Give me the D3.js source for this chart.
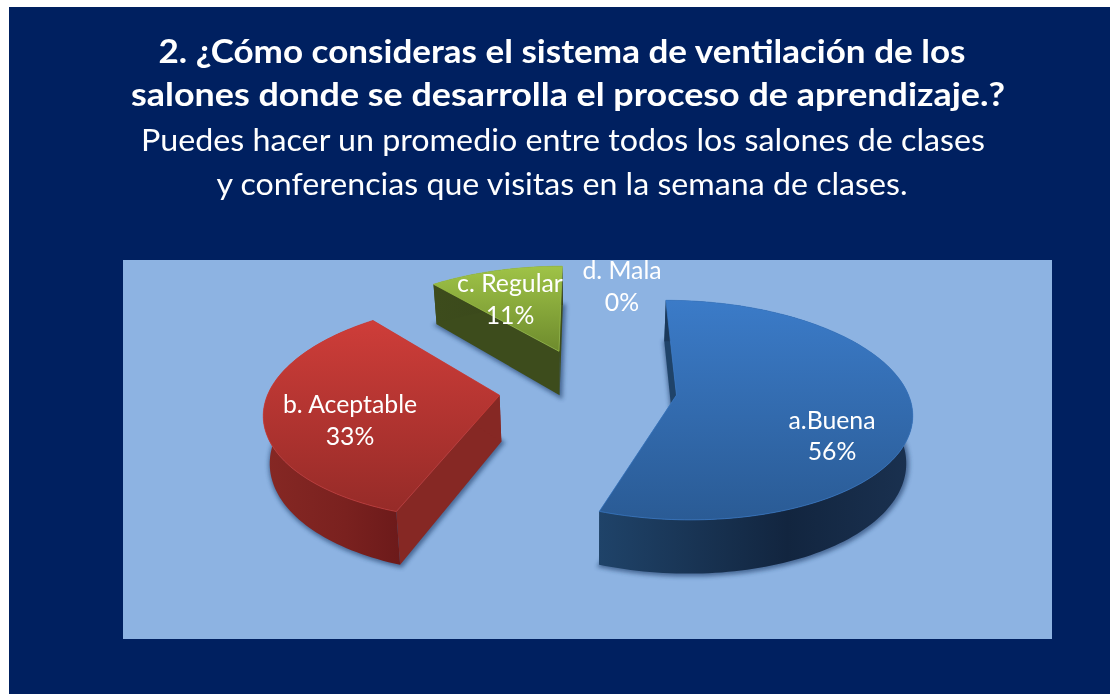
<!DOCTYPE html>
<html><head><meta charset="utf-8">
<script src="https://cdnjs.cloudflare.com/ajax/libs/d3/7.8.5/d3.min.js"></script>
<style>html,body{margin:0;padding:0;background:#fff;overflow:hidden}svg{display:block}</style>
</head><body><div id="chart"></div>
<script>
// ---- data ----
const categories = ["a.Buena", "b. Aceptable", "c. Regular", "d. Mala"];
const shares = [0.555, 0.334, 0.111, 0];
const titleLines = ["2. ¿Cómo consideras el sistema de ventilación de los",
                    "salones donde se desarrolla el proceso de aprendizaje.?"];
const subtitleLines = ["Puedes hacer un promedio entre todos los salones de clases",
                       "y conferencias que visitas en la semana de clases."];
// ---- styles / layout ----
const topColors  = [["#3B7BC8","#2A5B95"],["#CE3D39","#962B28"],["#9FC347","#6E8B2D"],["#888","#888"]];
const wallStops  = [["#1F4369","#12253F","#1A3150"],["#862824","#7A211F","#6C1A1A"],["#3D4C1C","#3A481B","#36421A"],["#555","#555","#555"]];
const labelPos   = [[832,421,452],[350,405,437],[510,284,316],[622,271,303]];
const titleLayout = [[562,63,807],[568,106,874]];
const subLayout   = [[563,151,844],[562,195,691]];
const W=1110,H=694, cx=588, cy=388, R=230, explode=89, D=1700, tilt=0.46, depth=46, zk=0.98;

const svg=d3.select("#chart").append("svg").attr("width",W).attr("height",H);
const defs=svg.append("defs");
svg.append("rect").attr("x",9).attr("y",7).attr("width",W-9).attr("height",H-7).attr("fill","#002060");
svg.append("rect").attr("x",123).attr("y",260).attr("width",929).attr("height",379).attr("fill","#8DB3E2");

defs.append("filter").attr("id","soft").attr("x","-10%").attr("y","-10%").attr("width","120%").attr("height","120%")
  .append("feGaussianBlur").attr("stdDeviation",2.2);
defs.append("filter").attr("id","txt").attr("x","-5%").attr("y","-20%").attr("width","110%").attr("height","140%")
  .append("feGaussianBlur").attr("stdDeviation",0.45);

// perspective projection of the ground plane (X right, Y away from viewer)
function project(X,Y,low){
  const w=1/(1+Y/D);
  const sx=cx+X*w*(low?zk:1), sy=cy-tilt*Y*w+(low?depth*w:0);
  return [sx,sy];
}
const slices=d3.pie().sort(null).value(d=>d)(shares);
const line=d3.line();
const geo=slices.map(s=>{
  const mid=(s.startAngle+s.endAngle)/2;
  const ox=explode*Math.sin(mid), oy=explode*Math.cos(mid);
  const n=Math.max(2,Math.ceil((s.endAngle-s.startAngle)*40));
  const ang=d3.range(n+1).map(i=>s.startAngle+(s.endAngle-s.startAngle)*i/n);
  const arc=low=>ang.map(a=>project(ox+R*Math.sin(a),oy+R*Math.cos(a),low));
  return {s,apexT:project(ox,oy,false),apexB:project(ox,oy,true),arcT:arc(false),arcB:arc(true)};
});
const g=svg.append("g");
// soft shadows under the slices
geo.forEach(d=>{ if(d.s.value===0) return;
  g.append("path").attr("d",line([d.apexB,...d.arcB])+"Z")
   .attr("transform","translate(1,1)")
   .attr("fill","#1d3a66").attr("stroke","#1d3a66").attr("stroke-width",4)
   .attr("opacity",.6).attr("filter","url(#soft)");
});
geo.forEach((d,i)=>{ if(d.s.value===0) return;
  const wid="wall"+i, tid="top"+i;
  const wg=defs.append("linearGradient").attr("id",wid);
  wallStops[i].forEach((c,k)=>wg.append("stop").attr("offset",[0,.6,1][k]).attr("stop-color",c));
  const tg=defs.append("linearGradient").attr("id",tid).attr("x1",0).attr("x2",0).attr("y1",0).attr("y2",1);
  topColors[i].forEach((c,k)=>tg.append("stop").attr("offset",k).attr("stop-color",c));
  const last=d.arcT.length-1;
  // radial walls
  [[d.arcT[0],d.arcB[0]],[d.arcT[last],d.arcB[last]]].forEach(([t,b])=>{
    g.append("path").attr("d",line([d.apexT,t,b,d.apexB])+"Z").attr("fill",wallStops[i][0]);
  });
  // outer wall
  g.append("path").attr("d",line([...d.arcT,...d.arcB.slice().reverse()])+"Z").attr("fill",`url(#${wid})`);
  // top face
  g.append("path").attr("d",line([d.apexT,...d.arcT])+"Z").attr("fill",`url(#${tid})`)
   .attr("stroke",topColors[i][0]).attr("stroke-width",1).attr("stroke-opacity",.7);
});

const font="Lato, 'Open Sans', sans-serif";
const tl=svg.append("g").attr("fill","#fff").attr("text-anchor","middle").attr("font-family",font).attr("filter","url(#txt)");
titleLines.forEach((t,i)=>tl.append("text").text(t).attr("x",titleLayout[i][0]).attr("y",titleLayout[i][1])
  .attr("font-size",32).attr("font-weight",700)
  .attr("textLength",titleLayout[i][2]).attr("lengthAdjust","spacingAndGlyphs"));
subtitleLines.forEach((t,i)=>tl.append("text").text(t).attr("x",subLayout[i][0]).attr("y",subLayout[i][1])
  .attr("font-size",31).attr("font-weight",400)
  .attr("textLength",subLayout[i][2]).attr("lengthAdjust","spacingAndGlyphs"));
const pct=d3.format(".0%");
const lb=svg.append("g").attr("fill","#fff").attr("text-anchor","middle").attr("font-family",font).attr("font-size",24.8).attr("filter","url(#txt)");
categories.forEach((c,i)=>{
  lb.append("text").text(c).attr("x",labelPos[i][0]).attr("y",labelPos[i][1]+8);
  lb.append("text").text(pct(shares[i])).attr("x",labelPos[i][0]).attr("y",labelPos[i][2]+8);
});
</script></body></html>
